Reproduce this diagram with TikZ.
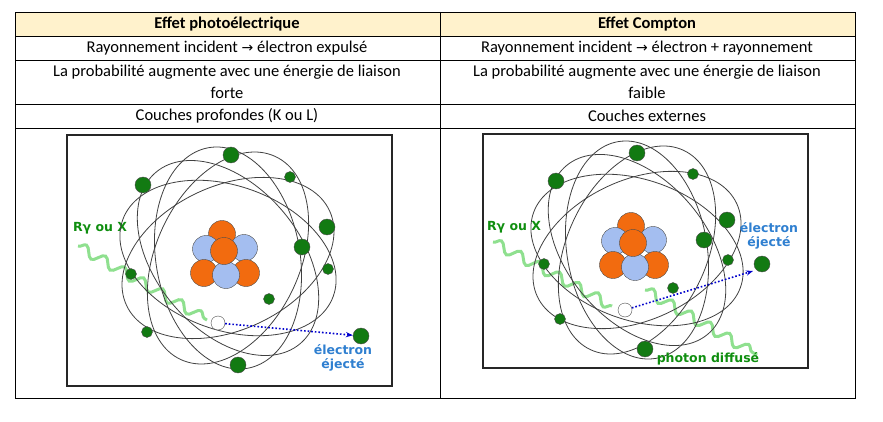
\documentclass[tikz,border=0pt]{standalone}
\usepackage{fontspec}
\setmainfont{Carlito}
\newfontfamily\vfont{DejaVu Sans}
\usetikzlibrary{decorations.pathmorphing,arrows.meta}
\definecolor{hdr}{HTML}{FFF2CC}
\definecolor{egreen}{HTML}{127A12}
\definecolor{nor}{HTML}{F26B0F}
\definecolor{nbl}{HTML}{A4BEF0}
\definecolor{lblue}{HTML}{2F7FD0}
\definecolor{wgreen}{HTML}{5FD35F}
\tikzset{
 cell/.style={font=\fontsize{16.5}{22}\selectfont, align=center},
 hcell/.style={cell, font=\fontsize{16.5}{22}\selectfont\bfseries},
 orb/.style={draw=black!75, line width=0.8pt},
 el/.style={circle, draw=black!70, fill=egreen, inner sep=0pt, minimum size=#1},
 nuo/.style={circle, draw=black!70, fill=nor, inner sep=0pt, minimum size=27pt},
 nub/.style={circle, draw=black!70, fill=nbl, inner sep=0pt, minimum size=27pt},
 gl/.style={text=egreen!85!green, font=\vfont\bfseries\fontsize{12.5}{13}\selectfont},
 bl/.style={text=lblue, font=\vfont\bfseries\fontsize{12.5}{14}\selectfont, align=center},
 wave/.style={draw=wgreen, opacity=0.7, line width=3pt, decorate, decoration={snake, amplitude=5pt, segment length=22pt}},
 dotar/.style={draw=blue!80!black, line width=1.6pt, dotted, -{Stealth[length=7pt]}},
 frame/.style={draw=black!85, line width=2.5pt}
}
\begin{document}
\begin{tikzpicture}[x=1pt,y=-1pt]
\useasboundingbox (0,0) rectangle (883,422);
\fill[hdr] (15,12) rectangle (855,36);
\draw[line width=0.6pt] (15,12) rectangle (855,398);
\foreach \y in {36,60,104,128} \draw[line width=0.6pt] (15,\y) -- (855,\y);
\draw[line width=0.6pt] (440,12) -- (440,398);
\node[hcell] (h1) at (227,24) {Effet photoélectrique};
\node[hcell] (h2) at (647,24) {Effet Compton};
\node[cell] (a1) at (227,48) {Rayonnement incident {\vfont\fontsize{14}{14}\selectfont →} électron expulsé};
\node[cell] (a2) at (647,48) {Rayonnement incident {\vfont\fontsize{14}{14}\selectfont →} électron + rayonnement};
\node[cell] (b1) at (227,82) {La probabilité augmente avec une énergie de liaison\\forte};
\node[cell] (b2) at (647,82) {La probabilité augmente avec une énergie de liaison\\faible};
\node[cell] (c1) at (227,116) {Couches profondes (K ou L)};
\node[cell] (c2) at (647,116) {Couches externes};

% LEFT atom
\draw[frame] (67,135) rectangle (392,386);
\path[wave] (78,246) -- (207,320);
\node[gl] (rl) at (100,228) {Rγ ou X};
\begin{scope}[shift={(228,258)}]
\foreach \a in {25,65,100,130,160} \draw[orb, rotate=\a] (0,0) ellipse (112 and 72);
\end{scope}
\node[nuo] at (222,234) {};
\node[nub] at (206,249) {};
\node[nub] at (244,248) {};
\node[nuo] at (204,273) {};
\node[nuo] at (246,273) {};
\node[nub] at (226,275) {};
\node[nuo] at (224,251) {};
\foreach \x/\y/\s in {231/155/16pt,143/185/16pt,290/177/11pt,327/227/16pt,302/247/16pt,328/269/11pt,131/274/11pt,269/299/11pt,147/332/11pt,238/365/16pt}
 \node[el=\s] at (\x,\y) {};
\node[el=16pt] (ej1) at (361,336) {};
\node[circle, draw=black!70, fill=white, minimum size=14pt, inner sep=0pt] (w1) at (218,323) {};
\draw[dotar] (w1) -- (ej1);
\node[bl] (t1) at (343,358) {électron\\éjecté};

% RIGHT atom
\draw[frame] (483,134) rectangle (808,368);
\path[wave] (493,242) -- (612,306);
\path[wave] (645,290) -- (757,355);
\node[gl] (rr) at (514,227) {Rγ ou X};
\begin{scope}[shift={(637,250)}]
\foreach \a in {25,65,100,130,160} \draw[orb, rotate=\a] (0,0) ellipse (110 and 70);
\end{scope}
\node[nuo] at (631,226) {};
\node[nub] at (615,241) {};
\node[nub] at (653,240) {};
\node[nuo] at (613,265) {};
\node[nuo] at (655,265) {};
\node[nub] at (635,267) {};
\node[nuo] at (633,243) {};
\foreach \x/\y/\s in {637/153/16pt,556/181/16pt,693/174/11pt,727/220/16pt,704/240/16pt,728/260/11pt,544/264/11pt,673/288/11pt,560/319/11pt,645/349/16pt}
 \node[el=\s] at (\x,\y) {};
\node[el=16pt] (ej2) at (762,264) {};
\node[circle, draw=black!70, fill=white, minimum size=14pt, inner sep=0pt] (w2) at (625,310) {};
\draw[dotar] (w2) -- (753,271);
\node[bl] (t2) at (769,236) {électron\\éjecté};
\node[gl] (pd) at (708,359) {photon diffusé};
\end{tikzpicture}
\end{document}
